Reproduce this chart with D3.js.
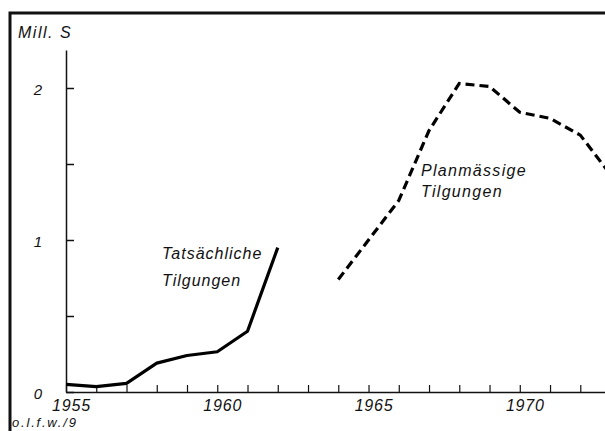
<!DOCTYPE html>
<html lang="de">
<head>
<meta charset="UTF-8">
<title>Tilgungen</title>
<style>
	body{margin:0;background:#fff;}
	text{font-family:"Liberation Sans",Arial,sans-serif;font-style:italic;fill:#111;}
</style>
</head>
<body>
<script src="https://cdn.jsdelivr.net/npm/d3@7/dist/d3.min.js"></script>
<script>
	// Tatsächliche Tilgungen (Mill. S)
	var actualYears=[1955,1956,1957,1958,1959,1960,1961,1962];
	var actualValues=[0.05,0.035,0.057,0.19,0.24,0.265,0.40,0.95];
	// Planmässige Tilgungen
	var planYears=[1964,1965,1966,1967,1968,1969,1970,1971,1972,1973];
	var planValues=[0.74,1.0,1.26,1.72,2.03,2.01,1.84,1.80,1.69,1.43];
	var yTicks=[0,0.5,1,1.5,2];
	var yLabels=[0,1,2];
	var xLabels=[1955,1960,1965,1970];

	var width=605;
	var height=431;
	var svg=d3.select('body')
			.append('svg')
			.attr('width',width)
			.attr('height',height);

	var xScale=d3.scaleLinear()
			.domain([1955,1972.85])
			.range([66,606]);
	var yScale=d3.scaleLinear()
			.domain([0,2.25])
			.range([392,50]);

	// frame (left and top)
	svg.append('path')
		.attr('d','M10,431 L10,13 L605,13')
		.attr('fill','none')
		.attr('stroke','#111')
		.attr('stroke-width',3);

	var yAxis=d3.axisLeft(yScale)
			.tickValues(yTicks)
			.tickSizeInner(-8)
			.tickSizeOuter(0)
			.tickPadding(28)
			.tickFormat(function(d){ return yLabels.indexOf(d)>=0 ? d : ''; });
	var gy=svg.append('g')
			.attr('transform','translate('+xScale(1955)+',0)')
			.call(yAxis);
	gy.select('.domain').attr('stroke','#111').attr('stroke-width',1.5);
	gy.selectAll('.tick line').attr('stroke','#111').attr('stroke-width',1.5);
	gy.selectAll('.tick text')
		.attr('font-size','15px')
		.attr('font-family','"Liberation Sans",Arial,sans-serif')
		.attr('text-anchor','middle')
		.attr('dy','0.4em')
		.attr('fill','#111');

	var xAxis=d3.axisBottom(xScale)
			.tickValues(d3.range(1955,1973))
			.tickSizeInner(-7)
			.tickSizeOuter(0)
			.tickPadding(8)
			.tickFormat(function(d){ return xLabels.indexOf(d)>=0 ? d : ''; });
	var gx=svg.append('g')
			.attr('transform','translate(0,'+yScale(0)+')')
			.call(xAxis);
	gx.select('.domain').attr('stroke','#111').attr('stroke-width',1.5);
	gx.selectAll('.tick line').attr('stroke','#111').attr('stroke-width',1.2);
	gx.selectAll('.tick text')
		.attr('font-size','16px')
		.attr('font-family','"Liberation Sans",Arial,sans-serif')
		.attr('letter-spacing','0.8px')
		.attr('dx',5)
		.attr('fill','#111');

	var line=d3.line()
			.x(function(d){ return xScale(d[0]); })
			.y(function(d){ return yScale(d[1]); });

	svg.append('path')
		.datum(d3.zip(actualYears,actualValues))
		.attr('d',line)
		.attr('fill','none')
		.attr('stroke','#000')
		.attr('stroke-width',3.2)
		.attr('stroke-linejoin','round');

	svg.append('path')
		.datum(d3.zip(planYears,planValues))
		.attr('d',line)
		.attr('fill','none')
		.attr('stroke','#000')
		.attr('stroke-width',3.2)
		.attr('stroke-dasharray','9,5');

	function label(x,y,size,spacing,str){
		svg.append('text')
			.attr('x',x)
			.attr('y',y)
			.attr('font-size',size+'px')
			.attr('letter-spacing',spacing+'px')
			.text(str);
	}
	label(18,38,16,1.5,'Mill. S');
	label(162,259,16,1,'Tatsächliche');
	label(162,286,16,1,'Tilgungen');
	label(421,176,16,1.3,'Planmässige');
	label(421,197,16,1.3,'Tilgungen');
	label(12,427,13,1.8,'o.l.f.w./9');
</script>
</body>
</html>
